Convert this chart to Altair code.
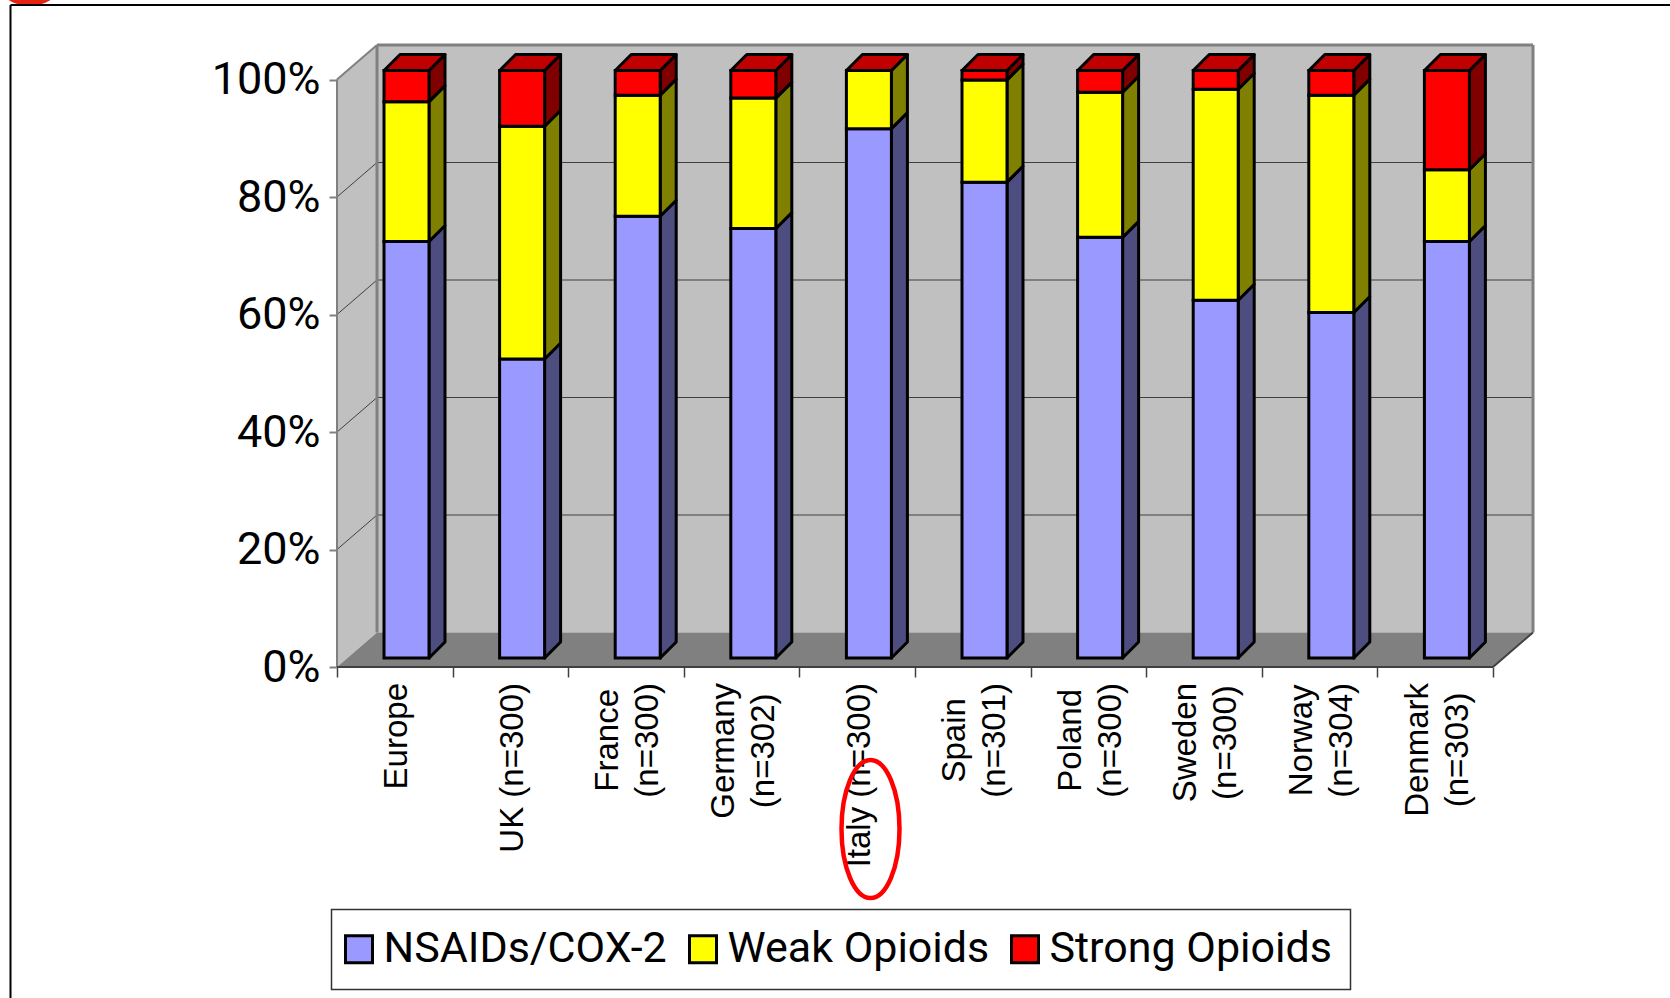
import altair as alt
import pandas as pd

# Share of patients by strongest analgesic class, per cent
countries = ["Europe", "UK (n=300)", "France\n(n=300)", "Germany\n(n=302)", "Italy (n=300)",
             "Spain\n(n=301)", "Poland\n(n=300)", "Sweden\n(n=300)", "Norway\n(n=304)", "Denmark\n(n=303)"]
nsaids = [70.9, 50.9, 75.2, 73.1, 90.1, 81.0, 71.6, 60.9, 58.8, 70.9]
weak = [23.8, 39.6, 20.6, 22.2, 9.9, 17.4, 24.7, 35.9, 37.0, 12.2]
strong = [5.3, 9.5, 4.2, 4.7, 0.0, 1.6, 3.7, 3.2, 4.2, 16.9]
series_names = ["NSAIDs/COX-2", "Weak Opioids", "Strong Opioids"]
front_colours = ["#9999FF", "#FFFF00", "#FF0000"]
side_colours = ["#4D4D80", "#808000", "#800000"]
top_colour = "#C00000"

# Plot geometry: one x unit is one category, one y unit is one per cent
PX_X, PX_Y = 115.6, 5.875
WALL_DX, WALL_DY = 40 / PX_X, 34.5 / PX_Y          # depth of the box
BAR_DX, BAR_DY = 16 / PX_X, 16 / PX_Y              # depth of a column
BAR_LEFT, BAR_W, BAR_LIFT = 47 / PX_X, 45 / PX_X, 9 / PX_Y
NC = len(countries)
LEFT, TOP = 337, 45
PLOT_W, PLOT_H = 1196, 622
HEAD_FONT = "Roboto"
SANS = "Liberation Sans"

x_scale = alt.Scale(domain=[0, NC + WALL_DX], nice=False, zero=False)
y_scale = alt.Scale(domain=[0, 100 + WALL_DY], nice=False, zero=False)
# Every layer carries the same axis definition so that Vega-Lite merges them into one
x_axis = alt.Axis(values=list(range(NC + 1)), labels=False, domain=False, grid=False, title=None,
                  tickSize=10, tickWidth=1.5, tickColor="#404040")
y_axis = alt.Axis(values=[0, 20, 40, 60, 80, 100], labelExpr="datum.value + '%'", domain=False, grid=False,
                  title=None, tickSize=8, tickWidth=2, tickColor="#808080", labelFont=HEAD_FONT, labelFontSize=45,
                  labelColor="black", labelPadding=9)
X = lambda f="x": alt.X(f"{f}:Q", scale=x_scale, axis=x_axis)
Y = lambda f="y": alt.Y(f"{f}:Q", scale=y_scale, axis=y_axis)

# Column faces
fronts, sides, tops = [], [], []
for i, name in enumerate(countries):
    base = 0.0
    l = i + BAR_LEFT
    r = l + BAR_W
    for s, vals in enumerate([nsaids, weak, strong]):
        v = vals[i]
        lo, hi = base + BAR_LIFT, base + v + BAR_LIFT
        key = f"{i}-{s}"
        if v > 0:
            fronts.append(dict(series=series_names[s], l=l, r=r, lo=lo, hi=hi))
            sides.append(dict(key=key, x=r, lo=lo, hi=hi, c=side_colours[s]))
            sides.append(dict(key=key, x=r + BAR_DX, lo=lo + BAR_DY, hi=hi + BAR_DY, c=side_colours[s]))
        base += v
    t = 100 + BAR_LIFT
    tops.append(dict(key=i, y=t, l=l, r=r))
    tops.append(dict(key=i, y=t + BAR_DY, l=l + BAR_DX, r=r + BAR_DX))

# Box: back wall, left wall and floor
back = alt.Chart(pd.DataFrame([dict(l=WALL_DX, r=NC + WALL_DX, lo=WALL_DY, hi=100 + WALL_DY)])).mark_rect(
    color="#C0C0C0").encode(x=X("l"), x2="r:Q", y=Y("lo"), y2="hi:Q")
side_wall = alt.Chart(pd.DataFrame([dict(x=0, lo=0, hi=100), dict(x=WALL_DX, lo=WALL_DY, hi=100 + WALL_DY)])).mark_area(
    color="#C0C0C0").encode(x=X(), y=Y("lo"), y2="hi:Q")
floor = alt.Chart(pd.DataFrame([dict(y=0, l=0, r=NC), dict(y=WALL_DY, l=WALL_DX, r=NC + WALL_DX)])).mark_area(
    orient="horizontal", color="#808080").encode(y=Y(), x=X("l"), x2="r:Q")

# Gridlines run up the left wall and then across the back
grid_rows = []
for v in [20, 40, 60, 80]:
    grid_rows += [dict(g=v, o=0, x=0, y=v), dict(g=v, o=1, x=WALL_DX, y=v + WALL_DY),
                  dict(g=v, o=2, x=NC + WALL_DX, y=v + WALL_DY)]
grid = alt.Chart(pd.DataFrame(grid_rows)).mark_line(color="#404040", strokeWidth=1).encode(
    x=X(), y=Y(), detail="g:N", order="o:Q")


def edges(rows, colour, width):
    return alt.Chart(pd.DataFrame(rows)).mark_line(color=colour, strokeWidth=width).encode(
        x=X(), y=Y(), detail="g:N", order="o:Q")


def seg(g, a, b):
    return [dict(g=g, o=0, x=a[0], y=a[1]), dict(g=g, o=1, x=b[0], y=b[1])]


wall_edges = edges(
    seg(0, (WALL_DX, WALL_DY), (WALL_DX, 100 + WALL_DY))
    + seg(1, (WALL_DX, 100 + WALL_DY), (NC + WALL_DX, 100 + WALL_DY))
    + seg(2, (NC + WALL_DX, 100 + WALL_DY), (NC + WALL_DX, WALL_DY)),
    "#808080", 3)
outer_edges = edges(seg(0, (0, 0), (0, 100)) + seg(1, (0, 100), (WALL_DX, 100 + WALL_DY)), "#808080", 2)
floor_edges = edges(seg(0, (0, 0), (NC, 0)) + seg(1, (NC, 0), (NC + WALL_DX, WALL_DY)), "#404040", 2)

# Faces of the columns
side_faces = alt.Chart(pd.DataFrame(sides)).mark_area(stroke="black", strokeWidth=3, strokeJoin="round").encode(
    x=X(), y=Y("lo"), y2="hi:Q", detail="key:N", color=alt.Color("c:N", scale=None, legend=None))
top_faces = alt.Chart(pd.DataFrame(tops)).mark_area(
    orient="horizontal", color=top_colour, stroke="black", strokeWidth=3, strokeJoin="round").encode(
    y=Y(), x=X("l"), x2="r:Q", detail="key:N")
front_faces = alt.Chart(pd.DataFrame(fronts)).mark_rect(stroke="black", strokeWidth=3).encode(
    x=X("l"), x2="r:Q", y=Y("lo"), y2="hi:Q",
    color=alt.Color("series:N", scale=alt.Scale(domain=series_names, range=front_colours), legend=alt.Legend(
        orient="none", legendX=331.5 - LEFT, legendY=909.5 - TOP, direction="horizontal", title=None,
        symbolType="square", symbolSize=729, symbolStrokeColor="black", symbolStrokeWidth=3, symbolOpacity=1,
        symbolOffset=-12, labelFont=HEAD_FONT, labelFontSize=43, labelColor="black", labelOffset=3,
        labelLimit=400, columnPadding=16, padding=18, fillColor="white", strokeColor="#333333", labelOpacity=1)))

# Category names, rotated, hung a fixed distance below the axis
WIDTHS = dict(zip("EuropeUK(n=3)FacGmyItlSiPdwNDk 0124",
                  [.667, .556, .333, .556, .556, .556, .722, .667, .333, .556, .584, .556, .333, .611, .556, .5,
                   .778, .833, .5, .278, .278, .222, .667, .222, .667, .556, .722, .722, .722, .5, .278,
                   .556, .556, .556, .556]))
LABEL_SIZE = 33
LABEL_TOP = 683
LINE_HEIGHT = 40


def text_length(text):
    line = max(text.split("\n"), key=lambda t: sum(WIDTHS.get(c, .556) for c in t))
    return sum(WIDTHS.get(c, .556) for c in line) * LABEL_SIZE


# A rotated two-line name hangs from its first line, so it moves back half a line to stay centred
label_rows = [dict(x=i + 0.52 - (LINE_HEIGHT / 2 / PX_X if "\n" in n else 0),
                   y=(TOP + PLOT_H - (LABEL_TOP + text_length(n) / 2)) / PX_Y, t=n)
              for i, n in enumerate(countries)]
labels = alt.Chart(pd.DataFrame(label_rows)).mark_text(
    angle=270, align="center", baseline="middle", font=SANS, fontSize=LABEL_SIZE, lineBreak="\n",
    lineHeight=LINE_HEIGHT, color="black").encode(x=X(), y=Y(), text="t:N")

# Slide furniture around the chart: frame, corner ornament and the highlight round Italy
corner = alt.Chart(pd.DataFrame({"a": [0]})).mark_point(
    shape="circle", size=6400, filled=True, color="#E62310", opacity=1).encode(
    x=alt.value(29.5 - LEFT), y=alt.value(-34 - TOP))
frame_left = alt.Chart(pd.DataFrame({"a": [0]})).mark_rule(color="black", strokeWidth=2).encode(
    x=alt.value(10.5 - LEFT), y=alt.value(5 - TOP), y2=alt.value(998 - TOP))
frame_top = alt.Chart(pd.DataFrame({"a": [0]})).mark_rule(color="black", strokeWidth=2).encode(
    y=alt.value(5 - TOP), x=alt.value(10.5 - LEFT), x2=alt.value(1670 - LEFT))
highlight = alt.Chart(pd.DataFrame({"a": [0]})).mark_point(
    shape="M0,-69A29,69 0 1,1 0,69A29,69 0 1,1 0,-69Z", size=4, filled=False, stroke="#FF0000",
    strokeWidth=4.5, opacity=1).encode(x=alt.value(870.5 - LEFT), y=alt.value(829 - TOP))

chart = alt.layer(
    corner, frame_left, frame_top,
    back, side_wall, floor, grid, wall_edges, outer_edges, floor_edges,
    side_faces, top_faces, front_faces, labels, highlight,
).resolve_scale(color="independent").properties(
    width=PLOT_W, height=PLOT_H,
    autosize=alt.AutoSizeParams(type="none"),
    padding={"left": LEFT, "top": TOP, "right": 1670 - LEFT - PLOT_W, "bottom": 998 - TOP - PLOT_H},
    background="white",
).configure_view(stroke=None).configure_legend(strokeWidth=1.5)

chart.save("out.html", embed_options={"renderer": "svg", "actions": False})
